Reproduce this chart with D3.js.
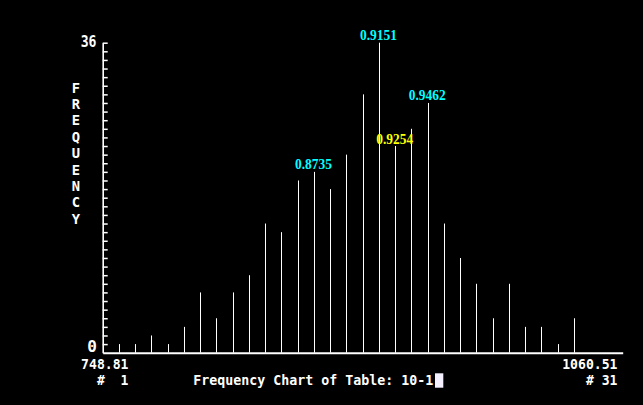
<!DOCTYPE html>
<html>
<head>
<meta charset="utf-8">
<script src="https://cdn.jsdelivr.net/npm/d3@7"></script>
<style>
html,body{margin:0;padding:0;background:#000;}
svg{display:block;}
</style>
</head>
<body>
<svg id="chart" width="643" height="405"></svg>
<script>
// ---- data ----
const binNumbers = d3.range(1, 32);           // # 1 .. # 31
const frequencies = [1,1,2,1,3,7,4,7,9,15,14,20,21,19,23,30,36,24,26,29,15,11,8,4,8,3,3,1,4,0,0];
const yTickValues = d3.range(1, 37);
const yLabels = ["0", "36"];
const xRangeLabels = ["748.81", "1060.51"];
const binLabels = ["#  1", "# 31"];
const annotationBins = [13, 17, 20, 18];
const annotationTexts = ["0.8735", "0.9151", "0.9462", "0.9254"];
const annotationColors = ["#00ffff", "#00ffff", "#00ffff", "#ffff00"];
const yTitle = "FREQUENCY";
const chartTitle = "Frequency Chart of Table: 10-1";

// ---- layout ----
const svg = d3.select("#chart");
svg.append("rect").attr("width", 643).attr("height", 405).attr("fill", "#000");

const x = d3.scaleLinear().domain([0, 32]).range([102.7, 622.7]);
const y = d3.scaleLinear().domain([0, 36]).range([352.7, 42.7]);

const mono = "'DejaVu Sans Mono', 'Liberation Mono', monospace";
const serif = "'Liberation Serif', 'DejaVu Serif', serif";
const charW = 7.9;

function monoText(str, xPos, yPos, anchor, size) {
  return svg.append("text")
    .attr("x", xPos).attr("y", yPos)
    .attr("fill", "#fff")
    .attr("font-family", mono)
    .attr("font-weight", "bold")
    .attr("font-size", size || 16)
    .attr("text-anchor", anchor || "start")
    .attr("textLength", str.length * charW)
    .attr("lengthAdjust", "spacingAndGlyphs")
    .style("white-space", "pre")
    .text(str);
}

// bars (1px lines)
svg.append("g").selectAll("line")
  .data(frequencies.map((f, i) => ({bin: binNumbers[i], f})).filter(d => d.f > 0))
  .join("line")
  .attr("x1", d => Math.round(x(d.bin)) + 0.5)
  .attr("x2", d => Math.round(x(d.bin)) + 0.5)
  .attr("y1", y(0))
  .attr("y2", d => y(d.f))
  .attr("stroke", "#fff")
  .attr("stroke-width", 1);

// y axis with inward ticks
const yAxis = d3.axisRight(y).tickValues(yTickValues).tickSize(5).tickSizeOuter(0).tickFormat("");
const gy = svg.append("g").attr("transform", `translate(${x(0)},0)`).call(yAxis);
gy.select(".domain").attr("stroke", "#fff").attr("stroke-width", 1.6);
gy.selectAll(".tick line").attr("stroke", "#fff").attr("stroke-width", 1.5);

// x axis line
const xAxis = d3.axisBottom(x).tickValues([]).tickSizeOuter(0);
const gx = svg.append("g").attr("transform", `translate(0,${y(0)})`).call(xAxis);
gx.select(".domain").attr("stroke", "#fff").attr("stroke-width", 2);

// y labels
monoText(yLabels[1], 96.5, y(36) + 4.5, "end");
monoText(yLabels[0], 97, y(0) - 0.5, "end").attr("textLength", null);

// vertical title
yTitle.split("").forEach((ch, i) => {
  svg.append("text")
    .attr("x", 76).attr("y", 92.5 + i * 16.4)
    .attr("fill", "#fff")
    .attr("font-family", mono).attr("font-weight", "bold")
    .attr("font-size", 13.8).attr("text-anchor", "middle")
    .text(ch);
});

// x range labels (two stacked lines each)
monoText(xRangeLabels[0], 128.5, 368.5, "end", 13.6);
monoText(binLabels[0], 128.5, 384.5, "end", 13.6);
monoText(xRangeLabels[1], 617.5, 368.5, "end", 13.6);
monoText(binLabels[1], 617.5, 384.5, "end", 13.6);

// title + cursor
monoText(chartTitle, 193.3, 384.5, "start", 13.6).attr("textLength", chartTitle.length * 8);
svg.append("rect").attr("x", 435).attr("y", 373.3).attr("width", 8.3).attr("height", 14.4).attr("fill", "#f4f0ff");

// annotations
annotationBins.forEach((b, i) => {
  svg.append("text")
    .attr("x", x(b) - 0.5)
    .attr("y", y(frequencies[b - 1]) - 2.5)
    .attr("fill", annotationColors[i])
    .attr("font-family", serif).attr("font-weight", "bold")
    .attr("font-size", 15.5).attr("text-anchor", "middle")
    .attr("textLength", 37).attr("lengthAdjust", "spacingAndGlyphs")
    .text(annotationTexts[i]);
});
</script>
</body>
</html>
